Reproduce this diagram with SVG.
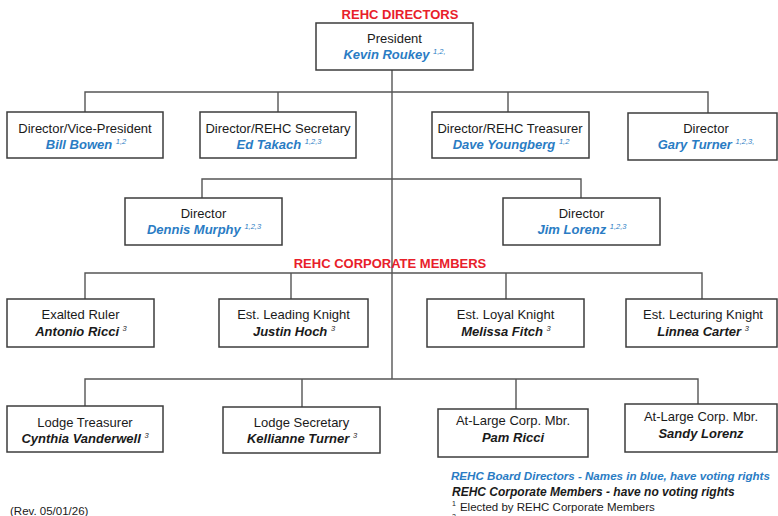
<svg xmlns="http://www.w3.org/2000/svg" width="778" height="516" viewBox="0 0 778 516">
<style>
text{font-family:"Liberation Sans",Arial,sans-serif;}
.bx{fill:#fff;stroke:#3c3c3c;stroke-width:1.5;}
.ln{fill:none;stroke:#555;stroke-width:1.4;}
.t{font-size:13px;fill:#1a1a1a;text-anchor:middle;}
.nb{font-size:13px;font-weight:bold;font-style:italic;fill:#2a7cc4;text-anchor:middle;}
.nk{font-size:13px;font-weight:bold;font-style:italic;fill:#1a1a1a;text-anchor:middle;}
.sup{font-size:7.5px;font-weight:normal;}
.hd{font-size:13px;font-weight:bold;fill:#e8202a;text-anchor:middle;}
.lg{font-size:12px;font-weight:bold;font-style:italic;}
</style>
<rect width="778" height="516" fill="#fff"/>
<g id="connectors">
<path class="ln" d="M392 70V379"/>
<path class="ln" d="M85 113V92H708V113M278 92V112M508 92V112"/>
<path class="ln" d="M202 198V179H581V198"/>
<path class="ln" d="M85 299V273H702V299M291 273V299M506 273V299"/>
<path class="ln" d="M85 406V379H698V404M302 379V407M516 379V409"/>
</g>
<text class="hd" x="400" y="19">REHC DIRECTORS</text>
<text class="hd" x="390" y="268">REHC CORPORATE MEMBERS</text>
<g id="president">
<rect class="bx" x="316" y="23" width="157" height="47"/>
<text class="t" x="394.5" y="42.5">President</text>
<text class="nb" x="394.5" y="59">Kevin Roukey <tspan class="sup" dy="-5">1,2,</tspan></text>
</g>
<g id="vice-president">
<rect class="bx" x="7" y="112" width="156" height="46"/>
<text class="t" x="85" y="132.5">Director/Vice-President</text>
<text class="nb" x="86" y="148.5">Bill Bowen <tspan class="sup" dy="-5">1,2</tspan></text>
</g>
<g id="secretary">
<rect class="bx" x="200" y="112" width="156" height="46"/>
<text class="t" x="278" y="132.5">Director/REHC Secretary</text>
<text class="nb" x="279" y="148.5">Ed Takach <tspan class="sup" dy="-5">1,2,3</tspan></text>
</g>
<g id="treasurer">
<rect class="bx" x="432" y="112" width="157" height="46"/>
<text class="t" x="510" y="132.5">Director/REHC Treasurer</text>
<text class="nb" x="511" y="148.5">Dave Youngberg <tspan class="sup" dy="-5">1,2</tspan></text>
</g>
<g id="director-turner">
<rect class="bx" x="628" y="113" width="149" height="47"/>
<text class="t" x="706" y="132.5">Director</text>
<text class="nb" x="706" y="149">Gary Turner <tspan class="sup" dy="-5">1,2,3,</tspan></text>
</g>
<g id="director-murphy">
<rect class="bx" x="125" y="198" width="157" height="47"/>
<text class="t" x="203.5" y="217.5">Director</text>
<text class="nb" x="204" y="234">Dennis Murphy <tspan class="sup" dy="-5">1,2,3</tspan></text>
</g>
<g id="director-lorenz">
<rect class="bx" x="503" y="198" width="157" height="47"/>
<text class="t" x="581.5" y="217.5">Director</text>
<text class="nb" x="582" y="234">Jim Lorenz <tspan class="sup" dy="-5">1,2,3</tspan></text>
</g>
<g id="exalted-ruler">
<rect class="bx" x="7" y="299" width="147" height="48"/>
<text class="t" x="80.5" y="318.5">Exalted Ruler</text>
<text class="nk" x="81" y="335.5">Antonio Ricci <tspan class="sup" dy="-5">3</tspan></text>
</g>
<g id="leading-knight">
<rect class="bx" x="219" y="299" width="149" height="48"/>
<text class="t" x="293.5" y="318.5">Est. Leading Knight</text>
<text class="nk" x="294" y="335.5">Justin Hoch <tspan class="sup" dy="-5">3</tspan></text>
</g>
<g id="loyal-knight">
<rect class="bx" x="427" y="299" width="157" height="48"/>
<text class="t" x="505.5" y="318.5">Est. Loyal Knight</text>
<text class="nk" x="506" y="335.5">Melissa Fitch <tspan class="sup" dy="-5">3</tspan></text>
</g>
<g id="lecturing-knight">
<rect class="bx" x="626" y="299" width="151" height="48"/>
<text class="t" x="703" y="318.5">Est. Lecturing Knight</text>
<text class="nk" x="703" y="335.5">Linnea Carter <tspan class="sup" dy="-5">3</tspan></text>
</g>
<g id="lodge-treasurer">
<rect class="bx" x="7" y="406" width="156" height="46"/>
<text class="t" x="85" y="426.5">Lodge Treasurer</text>
<text class="nk" x="85" y="442.5">Cynthia Vanderwell <tspan class="sup" dy="-5">3</tspan></text>
</g>
<g id="lodge-secretary">
<rect class="bx" x="223" y="407" width="157" height="46"/>
<text class="t" x="301.5" y="427">Lodge Secretary</text>
<text class="nk" x="302" y="443">Kellianne Turner <tspan class="sup" dy="-5">3</tspan></text>
</g>
<g id="at-large-ricci">
<rect class="bx" x="438" y="409" width="150" height="48"/>
<text class="t" x="513" y="425">At-Large Corp. Mbr.</text>
<text class="nk" x="513" y="441.5">Pam Ricci</text>
</g>
<g id="at-large-lorenz">
<rect class="bx" x="625" y="404" width="152" height="48"/>
<text class="t" x="701" y="421">At-Large Corp. Mbr.</text>
<text class="nk" x="701" y="437.5">Sandy Lorenz</text>
</g>
<g id="legend">
<text class="lg" x="451" y="479.5" fill="#2a7cc4" font-size="11.6px" style="font-size:11.6px">REHC Board Directors - Names in blue, have voting rights</text>
<text class="lg" x="452" y="495.5" fill="#1a1a1a">REHC Corporate Members - have no voting rights</text>
<text x="452" y="510.5" font-size="11.5" fill="#1a1a1a"><tspan font-size="7" dy="-5">1</tspan><tspan dx="4" dy="5">Elected by REHC Corporate Members</tspan></text>
<text x="452" y="519" font-size="7" fill="#1a1a1a">2</text>
</g>
<text x="10" y="515" font-size="11.5" fill="#1a1a1a">(Rev. 05/01/26)</text>
</svg>
